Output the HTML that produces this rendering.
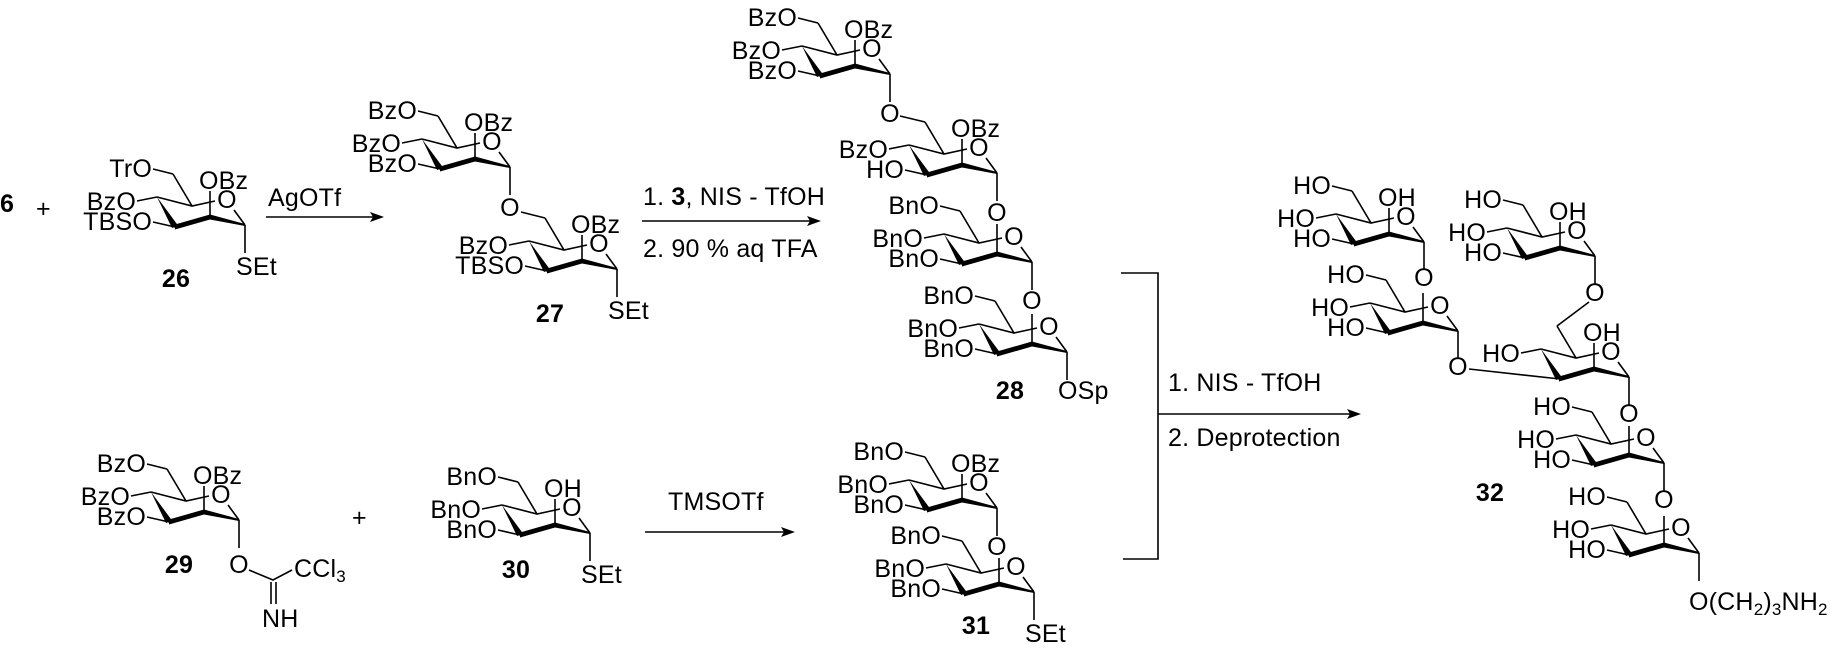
<!DOCTYPE html>
<html><head><meta charset="utf-8"><style>
html,body{margin:0;padding:0;background:#fff;}
svg{display:block;}
text{font-family:"Liberation Sans",Arial,sans-serif;font-size:25px;letter-spacing:0.2px;fill:#000;}
.b{font-weight:bold;}
.e{text-anchor:end;}
.m{text-anchor:middle;}
</style></head><body>
<svg width="1831" height="651" viewBox="0 0 1831 651" xmlns="http://www.w3.org/2000/svg">
<defs>
<g id="ring">
 <path d="M-88,-28 L-53,-19 L-30,-24 M-11,-15 L0,0 M-53,-19 L-72,-51" fill="none" stroke="#000" stroke-width="1.6"/>
 <polygon points="-88,-28 -73,3 -67,0.5" fill="#000"/>
 <polygon points="-70,-0.5 -35,-10.5 -35,-5.5 -70,4.5" fill="#000"/>
 <polygon points="-35,-10.5 -35,-5.5 0,1 0,-1" fill="#000"/>
</g>
<path id="s6" d="M-72,-51 L-92,-56" stroke="#000" stroke-width="1.6" fill="none"/>
<path id="s4" d="M-88,-28 L-108,-24" stroke="#000" stroke-width="1.6" fill="none"/>
<path id="s3" d="M-70,2 L-92,-3" stroke="#000" stroke-width="1.6" fill="none"/>
<path id="s2" d="M-35,-8 L-35,-34" stroke="#000" stroke-width="1.6" fill="none"/>
<path id="s1" d="M0,0 L0,28" stroke="#000" stroke-width="1.6" fill="none"/>
</defs>

<text x="0" y="212" class="b">6</text>
<text x="36" y="217">+</text>
<g transform="translate(245,225)">
 <use href="#ring"/><use href="#s6"/><use href="#s4"/><use href="#s3"/><use href="#s2"/><use href="#s1"/>
 <text x="-18" y="-17" class="m">O</text>
 <text x="-93" y="-48" class="e">TrO</text>
 <text x="-109" y="-15" class="e">BzO</text>
 <text x="-93" y="5" class="e">TBSO</text>
 <text x="-46" y="-36">OBz</text>
 <text x="-9" y="50">SEt</text>
 <text x="-69" y="62" class="b m">26</text>
</g>

<line x1="266" y1="217" x2="375" y2="217" stroke="#000" stroke-width="1.6"/>
<polygon points="384,217 370,212 373,217 370,222" fill="#000"/>
<text x="268" y="206">AgOTf</text>

<g transform="translate(510,167)">
 <use href="#ring"/><use href="#s6"/><use href="#s4"/><use href="#s3"/><use href="#s2"/><use href="#s1"/>
 <text x="-18" y="-17" class="m">O</text>
 <text x="-93" y="-48" class="e">BzO</text>
 <text x="-109" y="-15" class="e">BzO</text>
 <text x="-93" y="5" class="e">BzO</text>
 <text x="-46" y="-36">OBz</text>
 <text x="0" y="49" class="m">O</text>
</g>
<line x1="521" y1="212" x2="545" y2="218" stroke="#000" stroke-width="1.6"/>
<g transform="translate(617,269)">
 <use href="#ring"/><use href="#s4"/><use href="#s3"/><use href="#s2"/><use href="#s1"/>
 <text x="-18" y="-17" class="m">O</text>
 <text x="-109" y="-15" class="e">BzO</text>
 <text x="-93" y="5" class="e">TBSO</text>
 <text x="-46" y="-36">OBz</text>
 <text x="-9" y="50">SEt</text>
 <text x="-67" y="53" class="b m">27</text>
</g>

<line x1="642" y1="221" x2="812" y2="221" stroke="#000" stroke-width="1.6"/>
<polygon points="821,221 807,216 810,221 807,226" fill="#000"/>
<text x="643" y="205">1. <tspan class="b">3</tspan>, NIS - TfOH</text>
<text x="643" y="257">2. 90 % aq TFA</text>

<g transform="translate(890,74)">
 <use href="#ring"/><use href="#s6"/><use href="#s4"/><use href="#s3"/><use href="#s2"/><use href="#s1"/>
 <text x="-18" y="-17" class="m">O</text>
 <text x="-93" y="-48" class="e">BzO</text>
 <text x="-109" y="-15" class="e">BzO</text>
 <text x="-93" y="5" class="e">BzO</text>
 <text x="-46" y="-36">OBz</text>
 <text x="0" y="48" class="m">O</text>
</g>
<line x1="900" y1="116" x2="925" y2="122" stroke="#000" stroke-width="1.6"/>
<g transform="translate(997,173)">
 <use href="#ring"/><use href="#s4"/><use href="#s3"/><use href="#s2"/><use href="#s1"/>
 <text x="-18" y="-17" class="m">O</text>
 <text x="-109" y="-15" class="e">BzO</text>
 <text x="-93" y="5" class="e">HO</text>
 <text x="-46" y="-36">OBz</text>
 <text x="0" y="48" class="m">O</text>
</g>
<g transform="translate(1032,262)">
 <use href="#ring"/><use href="#s6"/><use href="#s4"/><use href="#s3"/><use href="#s1"/>
 <path d="M-35,-8 L-35,-38" stroke="#000" stroke-width="1.6"/>
 <text x="-18" y="-17" class="m">O</text>
 <text x="-93" y="-48" class="e">BnO</text>
 <text x="-109" y="-15" class="e">BnO</text>
 <text x="-93" y="5" class="e">BnO</text>
 <text x="0" y="47" class="m">O</text>
</g>
<g transform="translate(1067,352)">
 <use href="#ring"/><use href="#s6"/><use href="#s4"/><use href="#s3"/><use href="#s1"/>
 <path d="M-35,-8 L-35,-38" stroke="#000" stroke-width="1.6"/>
 <text x="-18" y="-17" class="m">O</text>
 <text x="-93" y="-48" class="e">BnO</text>
 <text x="-109" y="-15" class="e">BnO</text>
 <text x="-93" y="5" class="e">BnO</text>
 <text x="-9" y="47">OSp</text>
 <text x="-57" y="47" class="b m">28</text>
</g>

<g transform="translate(239,520)">
 <use href="#ring"/><use href="#s6"/><use href="#s4"/><use href="#s3"/><use href="#s2"/><use href="#s1"/>
 <text x="-18" y="-17" class="m">O</text>
 <text x="-93" y="-48" class="e">BzO</text>
 <text x="-109" y="-15" class="e">BzO</text>
 <text x="-93" y="5" class="e">BzO</text>
 <text x="-46" y="-36">OBz</text>
 <text x="0" y="53" class="m">O</text>
 <text x="-60" y="53" class="b m">29</text>
</g>
<path d="M249,570 L273,580 L292,570 M271,582 L271,604 M276,582 L276,604" stroke="#000" stroke-width="1.6" fill="none"/>
<text x="294" y="577">CCl<tspan font-size="17" dy="5">3</tspan></text>
<text x="262" y="627">NH</text>
<text x="352" y="526">+</text>

<g transform="translate(590,533)">
 <use href="#ring"/><use href="#s6"/><use href="#s4"/><use href="#s3"/><use href="#s2"/><use href="#s1"/>
 <text x="-18" y="-17" class="m">O</text>
 <text x="-93" y="-48" class="e">BnO</text>
 <text x="-109" y="-15" class="e">BnO</text>
 <text x="-93" y="5" class="e">BnO</text>
 <text x="-46" y="-36">OH</text>
 <text x="-9" y="50">SEt</text>
 <text x="-74" y="45" class="b m">30</text>
</g>

<line x1="645" y1="532" x2="786" y2="532" stroke="#000" stroke-width="1.6"/>
<polygon points="795,532 781,527 784,532 781,537" fill="#000"/>
<text x="668" y="510">TMSOTf</text>

<g transform="translate(997,508)">
 <use href="#ring"/><use href="#s6"/><use href="#s4"/><use href="#s3"/><use href="#s2"/><use href="#s1"/>
 <text x="-18" y="-17" class="m">O</text>
 <text x="-93" y="-48" class="e">BnO</text>
 <text x="-109" y="-15" class="e">BnO</text>
 <text x="-93" y="5" class="e">BnO</text>
 <text x="-46" y="-36">OBz</text>
 <text x="0" y="47" class="m">O</text>
</g>
<g transform="translate(1034,592)">
 <use href="#ring"/><use href="#s6"/><use href="#s4"/><use href="#s3"/><use href="#s1"/>
 <path d="M-35,-8 L-35,-34" stroke="#000" stroke-width="1.6"/>
 <text x="-18" y="-17" class="m">O</text>
 <text x="-93" y="-48" class="e">BnO</text>
 <text x="-109" y="-15" class="e">BnO</text>
 <text x="-93" y="5" class="e">BnO</text>
 <text x="-9" y="50">SEt</text>
 <text x="-58" y="42" class="b m">31</text>
</g>

<path d="M1121,273 H1158 V559 H1123" stroke="#000" stroke-width="1.6" fill="none"/>
<line x1="1158" y1="414" x2="1352" y2="414" stroke="#000" stroke-width="1.6"/>
<polygon points="1361,414 1347,409 1350,414 1347,419" fill="#000"/>
<text x="1168" y="391">1. NIS - TfOH</text>
<text x="1168" y="446">2. Deprotection</text>

<g transform="translate(1424,242)">
 <use href="#ring"/><use href="#s6"/><use href="#s4"/><use href="#s3"/><use href="#s2"/><use href="#s1"/>
 <text x="-18" y="-17" class="m">O</text>
 <text x="-93" y="-48" class="e">HO</text>
 <text x="-109" y="-15" class="e">HO</text>
 <text x="-93" y="5" class="e">HO</text>
 <text x="-46" y="-36">OH</text>
 <text x="0" y="44" class="m">O</text>
</g>
<g transform="translate(1458,331)">
 <use href="#ring"/><use href="#s6"/><use href="#s4"/><use href="#s3"/><use href="#s1"/>
 <path d="M-35,-8 L-35,-38" stroke="#000" stroke-width="1.6"/>
 <text x="-18" y="-17" class="m">O</text>
 <text x="-93" y="-48" class="e">HO</text>
 <text x="-109" y="-15" class="e">HO</text>
 <text x="-93" y="5" class="e">HO</text>
 <text x="0" y="44" class="m">O</text>
</g>
<line x1="1469" y1="369" x2="1560" y2="379" stroke="#000" stroke-width="1.6"/>
<g transform="translate(1595,256)">
 <use href="#ring"/><use href="#s6"/><use href="#s4"/><use href="#s3"/><use href="#s2"/><use href="#s1"/>
 <text x="-18" y="-17" class="m">O</text>
 <text x="-93" y="-48" class="e">HO</text>
 <text x="-109" y="-15" class="e">HO</text>
 <text x="-93" y="5" class="e">HO</text>
 <text x="-46" y="-36">OH</text>
 <text x="0" y="45" class="m">O</text>
</g>
<line x1="1589" y1="302" x2="1557" y2="326" stroke="#000" stroke-width="1.6"/>
<g transform="translate(1629,377)">
 <use href="#ring"/><use href="#s4"/><use href="#s2"/><use href="#s1"/>
 <text x="-18" y="-17" class="m">O</text>
 <text x="-109" y="-15" class="e">HO</text>
 <text x="-46" y="-36">OH</text>
 <text x="0" y="45" class="m">O</text>
</g>
<g transform="translate(1664,463)">
 <use href="#ring"/><use href="#s6"/><use href="#s4"/><use href="#s3"/><use href="#s1"/>
 <path d="M-35,-8 L-35,-37" stroke="#000" stroke-width="1.6"/>
 <text x="-18" y="-17" class="m">O</text>
 <text x="-93" y="-48" class="e">HO</text>
 <text x="-109" y="-15" class="e">HO</text>
 <text x="-93" y="5" class="e">HO</text>
 <text x="0" y="45" class="m">O</text>
 <text x="-174" y="38" class="b m">32</text>
</g>
<g transform="translate(1699,553)">
 <use href="#ring"/><use href="#s6"/><use href="#s4"/><use href="#s3"/><use href="#s1"/>
 <path d="M-35,-8 L-35,-37" stroke="#000" stroke-width="1.6"/>
 <text x="-18" y="-17" class="m">O</text>
 <text x="-93" y="-48" class="e">HO</text>
 <text x="-109" y="-15" class="e">HO</text>
 <text x="-93" y="5" class="e">HO</text>
 <text x="-10" y="57">O(CH<tspan font-size="17" dy="5">2</tspan><tspan dy="-5">)</tspan><tspan font-size="17" dy="5">3</tspan><tspan dy="-5">NH</tspan><tspan font-size="17" dy="5">2</tspan></text>
</g>
</svg>
</body></html>
